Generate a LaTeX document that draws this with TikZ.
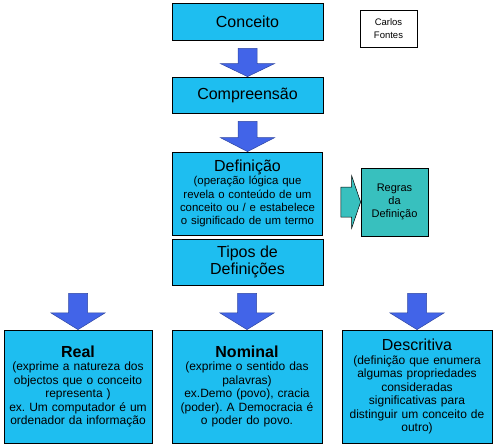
\documentclass[tikz,border=0pt]{standalone}
\usepackage{fontspec}
\setmainfont{Liberation Sans}
\usetikzlibrary{calc}

\definecolor{boxcyan}{RGB}{30,190,240}
\definecolor{boxteal}{RGB}{56,192,190}
\definecolor{arrowblue}{RGB}{66,100,232}

\tikzset{
  box/.style={draw=black, fill=boxcyan, line width=0.8pt, inner sep=1pt, align=center},
  bluearrow/.style={fill=arrowblue, draw=arrowblue!70!black, line width=0.5pt},
  tealarrow/.style={fill=boxteal, draw=black, line width=0.5pt},
  big/.style={font=\fontsize{16}{17}\selectfont},
  small/.style={font=\fontsize{12}{13.5}\selectfont}
}

% block arrow pointing down onto box #2, starting under box #1
\newcommand{\blockdown}[2]{%
  \coordinate (t) at (#2.north);
  \coordinate (s) at ($(#2.north |- #1.south)+(0,8)$);
  \coordinate (h) at ($(t)!0.46!(s)$);
  \filldraw[bluearrow] ($(s)+(-9.5,0)$) -- ($(h)+(-9.5,0)$) -- ($(h)+(-27,0)$) -- (t)
    -- ($(h)+(27,0)$) -- ($(h)+(9.5,0)$) -- ($(s)+(9.5,0)$) -- cycle;}

\newcommand{\ttl}[1]{{\fontsize{16}{17}\selectfont #1\par}}

\begin{document}
\frenchspacing
\begin{tikzpicture}[x=1pt,y=-1pt]
\useasboundingbox (0,0) rectangle (495,445);
\def\wm{151};
\def\wb{150};

% column in the middle
\node[box, big, minimum width=\wm pt, minimum height=37pt] (conceito) at (247.5,21.5) {Conceito};
\node[box, big, minimum width=\wm pt, minimum height=36pt] (compreensao) at (247.5,95) {Compreensão};
\node[box, font=\fontsize{11.4}{13.3}\selectfont, text width=148pt, minimum height=83pt] (definicao) at (247.5,193.5)
  {\ttl{Definição}(operação lógica que\\revela o conteúdo de um\\conceito ou / e estabelece\\o significado de um termo};
\node[box, big, minimum width=\wm pt, minimum height=46pt] (tipos) at (247.5,262) {Tipos de\\Definições};

% author and rules
\node[draw=black, fill=white, line width=0.6pt, minimum width=57pt, minimum height=37pt,
  font=\fontsize{9.5}{12.7}\selectfont, align=center] (autor) at (388.5,28.5) {Carlos\\Fontes};
\node[box, fill=boxteal, font=\fontsize{11}{13.3}\selectfont, minimum width=67pt, minimum height=68pt] (regras)
  at (394.5,202) {Regras\\da\\Definição};

% three kinds
\node[box, small, text width=146pt, minimum height=113pt] (real) at (78,386.5)
  {\ttl{\bfseries Real}(exprime a natureza dos\\objectos que o conceito\\representa )\\ex. Um computador é um\\ordenador da informação\\[3pt]};
\node[box, small, text width=148pt, minimum height=113pt] (nominal) at (247,386.5)
  {\ttl{\bfseries Nominal}(exprime o sentido das\\palavras)\\ex.Demo (povo), cracia\\(poder). A Democracia é\\o poder do povo.\\[3pt]};
\node[box, small, text width=148pt, minimum height=113pt] (descritiva) at (417,386.5)
  {\ttl{Descritiva}(definição que enumera\\algumas propriedades\\consideradas\\significativas para\\distinguir um conceito de\\outro)};

% arrows
\blockdown{conceito}{compreensao}
\blockdown{compreensao}{definicao}
\blockdown{tipos}{real}
\blockdown{tipos}{nominal}
\blockdown{tipos}{descritiva}

\coordinate (t) at (regras.west);
\coordinate (s) at ($(definicao.east |- regras.west)+(18,0)$);
\coordinate (h) at ($(t)!0.45!(s)$);
\filldraw[tealarrow] ($(s)+(0,-15)$) -- ($(h)+(0,-15)$) -- ($(h)+(0,-26)$) -- (t)
  -- ($(h)+(0,26)$) -- ($(h)+(0,15)$) -- ($(s)+(0,15)$) -- cycle;

\end{tikzpicture}
\end{document}
